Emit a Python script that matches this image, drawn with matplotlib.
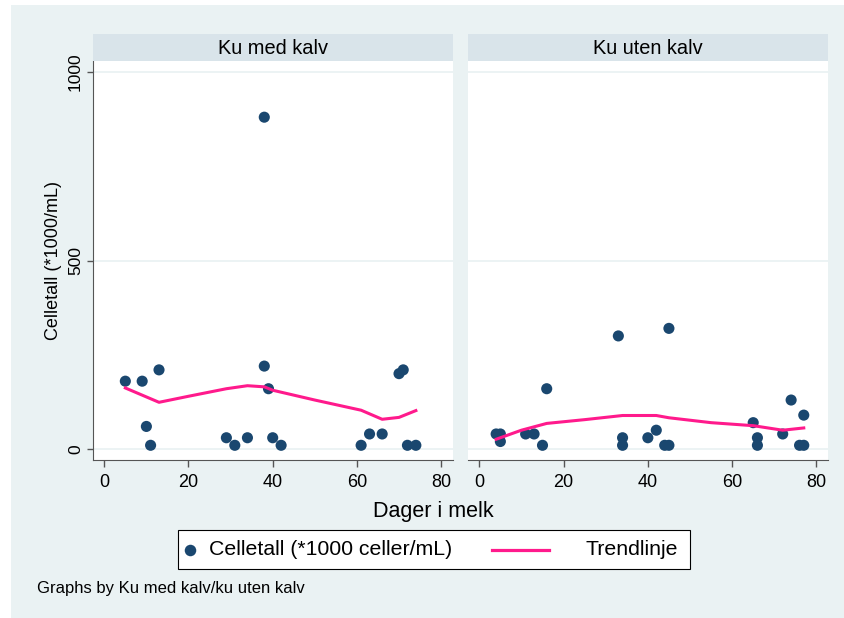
import matplotlib
matplotlib.use("Agg")
import matplotlib.pyplot as plt
from matplotlib.lines import Line2D
from matplotlib.patches import Rectangle

plt.rcParams["font.family"] = ["Liberation Sans", "DejaVu Sans"]

# Ku med kalv
med_dager = [5, 9, 10, 11, 13, 29, 31, 34, 38, 38, 39, 40, 42, 61, 63, 66, 70, 71, 72, 74]
med_celler = [180, 180, 60, 10, 210, 30, 10, 30, 880, 220, 160, 30, 10, 10, 40, 40, 200, 210, 10, 10]
med_trend_x = [5, 13, 20, 29, 34, 38, 40, 50, 61, 66, 70, 74]
med_trend_y = [162, 124, 140, 160, 168, 165, 156, 130, 103, 79, 84, 102]

# Ku uten kalv
uten_dager = [4, 5, 5, 11, 13, 15, 16, 33, 34, 34, 40, 42, 44, 45, 45, 65, 66, 66, 72, 74, 76, 77, 77]
uten_celler = [40, 40, 20, 40, 40, 10, 160, 300, 30, 10, 30, 50, 10, 10, 320, 70, 30, 10, 40, 130, 10, 90, 10]
uten_trend_x = [4, 10, 16, 25, 34, 42, 45, 55, 65, 72, 77]
uten_trend_y = [26, 50, 68, 78, 89, 89, 83, 70, 62, 50, 56]

panels = ["Ku med kalv", "Ku uten kalv"]
xticks = [0, 20, 40, 60, 80]
yticks = [0, 500, 1000]

W, H = 845, 618
bg = "#eaf2f3"
strip_col = "#d9e4ea"
navy = "#1a476f"
pink = "#ff1a8c"

fig = plt.figure(figsize=(W / 100, H / 100), dpi=100)
fig.patch.set_facecolor("white")
fig.patches.append(Rectangle((11 / W, 0), 1 - 11 / W, 1 - 5 / H, transform=fig.transFigure,
                             facecolor=bg, edgecolor="none", zorder=-10))


def px(x0, y0, x1, y1):
    return [x0 / W, 1 - y1 / H, (x1 - x0) / W, (y1 - y0) / H]


def fx(x):
    return x / W


def fy(y):
    return 1 - y / H


boxes = [(92.7, 452.7), (467.7, 828)]
data = [(med_dager, med_celler, med_trend_x, med_trend_y),
        (uten_dager, uten_celler, uten_trend_x, uten_trend_y)]

for i, ((l, r), (xs, ys, tx, ty)) in enumerate(zip(boxes, data)):
    ax = fig.add_axes(px(l, 61, r, 460))
    ax.set_facecolor("white")
    ax.set_xlim(-2.75, 82.75)
    ax.set_ylim(-29, 1029)
    for g in yticks:
        ax.axhline(g, color=bg, linewidth=1.3, zorder=0)
    ax.scatter(xs, ys, s=64, color=navy, edgecolors="none", zorder=3)
    ax.plot(tx, ty, color=pink, linewidth=2.2, zorder=4)

    ax.set_xticks(xticks)
    ax.tick_params(axis="x", length=5, width=1, color="#555555", labelsize=13, pad=5)
    for s in ["top", "right"]:
        ax.spines[s].set_visible(False)
    ax.spines["bottom"].set_color("#555555")
    if i == 0:
        ax.set_yticks(yticks)
        ax.set_yticklabels([str(v) for v in yticks], rotation=90, va="center")
        ax.tick_params(axis="y", length=4, width=1, color="#555555", labelsize=12.5, pad=3)
        ax.spines["left"].set_color("#555555")
    else:
        ax.spines["left"].set_visible(False)
        ax.set_yticks([])

    sax = fig.add_axes(px(l, 34, r, 61))
    sax.set_facecolor(strip_col)
    sax.set_xticks([])
    sax.set_yticks([])
    for s in sax.spines.values():
        s.set_visible(False)
    sax.text(0.5, 0.45, panels[i], ha="center", va="center", fontsize=14.4, transform=sax.transAxes)

fig.text(fx(54), fy(261), "Celletall (*1000/mL)", rotation=90, ha="center", va="center", fontsize=13)
fig.text(fx(433), fy(511), "Dager i melk", ha="center", va="center", fontsize=15.5)

# legend box, drawn by hand
fig.patches.append(Rectangle((fx(178), fy(569)), (690 - 178) / W, (569 - 530) / H,
                             transform=fig.transFigure, facecolor="white",
                             edgecolor="black", linewidth=0.8))
fig.lines.append(Line2D([fx(190)], [fy(549.5)], marker="o", linestyle="none", color=navy,
                        markersize=8.3, markeredgewidth=0, transform=fig.transFigure))
fig.text(fx(209), fy(549.5), "Celletall (*1000 celler/mL)", ha="left", va="center", fontsize=15.3)
fig.lines.append(Line2D([fx(492), fx(549)], [fy(549.5), fy(549.5)], color=pink, linewidth=2.3,
                        transform=fig.transFigure))
fig.text(fx(586), fy(549.5), "Trendlinje", ha="left", va="center", fontsize=15.3)

fig.text(fx(37), fy(589), "Graphs by Ku med kalv/ku uten kalv", ha="left", va="center", fontsize=12)

fig.savefig("out.png", dpi=100, facecolor=fig.get_facecolor())
